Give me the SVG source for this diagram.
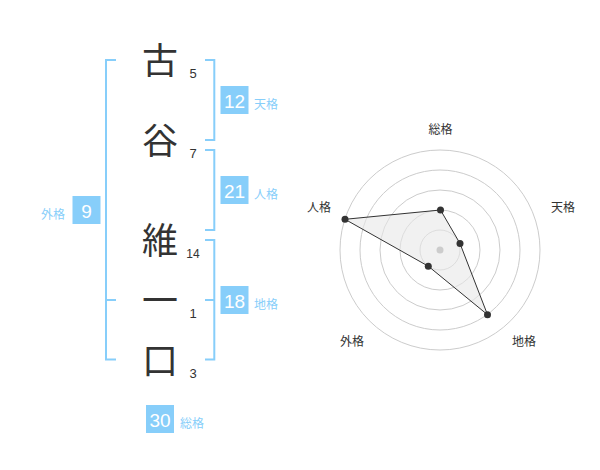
<svg xmlns="http://www.w3.org/2000/svg" width="600" height="470" viewBox="0 0 600 470">
<style>
.kanji{font-family:"Noto Sans CJK JP","Noto Sans CJK SC",sans-serif;font-size:36px;fill:#333;text-anchor:middle}
.cnt{font-family:"Liberation Sans",Arial,sans-serif;font-size:13px;fill:#333;text-anchor:middle}
.br{fill:none;stroke:#87cefa;stroke-width:2}
.box{fill:#87cefa}
.num{font-family:"Liberation Sans",Arial,sans-serif;font-size:19px;fill:#fff;text-anchor:middle}
.lbl{font-family:"Noto Sans CJK JP","Noto Sans CJK SC",sans-serif;font-size:12px;fill:#87cefa}
.ring{fill:none;stroke:#ccc;stroke-width:1}
.rl{font-family:"Noto Sans CJK JP","Noto Sans CJK SC",sans-serif;font-size:12px;fill:#333;text-anchor:middle}
.pt{fill:#333}
</style>
<rect width="600" height="470" fill="#fff"/>
<g id="name-chars">
<text class="kanji" x="160" y="73.5">古</text>
<text class="kanji" x="160" y="153.5">谷</text>
<text class="kanji" x="160" y="253.5">維</text>
<text class="kanji" x="160" y="313.5">一</text>
<text class="kanji" x="160" y="374">口</text>
</g>
<g id="stroke-counts">
<text class="cnt" x="193" y="77.7">5</text>
<text class="cnt" x="193" y="157.7">7</text>
<text class="cnt" x="193" y="257.7" style="font-size:12px">14</text>
<text class="cnt" x="193" y="318">1</text>
<text class="cnt" x="193" y="378">3</text>
</g>
<g id="connectors">
<path class="br" d="M116,60 H106 V359.5 H116 M106,300 H116"/>
<path class="br" d="M205,60 H214.3 V140 H205"/>
<path class="br" d="M205,150 H214.3 V230 H205"/>
<path class="br" d="M205,240 H214.3 V359.5 H205 M205,300 H214.3"/>
</g>
<g id="tenkaku">
<rect class="box" x="220.5" y="86" width="28" height="28"/>
<text class="num" x="234.5" y="107.5">12</text>
<text class="lbl" x="254" y="109">天格</text>
</g>
<g id="jinkaku">
<rect class="box" x="220.5" y="176" width="28" height="28"/>
<text class="num" x="234.5" y="197.5">21</text>
<text class="lbl" x="254" y="199">人格</text>
</g>
<g id="chikaku">
<rect class="box" x="220.5" y="286" width="28" height="28"/>
<text class="num" x="234.5" y="307.5">18</text>
<text class="lbl" x="254" y="309">地格</text>
</g>
<g id="gaikaku">
<rect class="box" x="72.5" y="196" width="28" height="28"/>
<text class="num" x="86.5" y="217.5">9</text>
<text class="lbl" x="41" y="219">外格</text>
</g>
<g id="soukaku">
<rect class="box" x="146" y="405" width="28" height="28"/>
<text class="num" x="160" y="426.5">30</text>
<text class="lbl" x="180" y="428">総格</text>
</g>
<g id="radar">
<circle class="ring" cx="440" cy="250" r="20"/>
<circle class="ring" cx="440" cy="250" r="40"/>
<circle class="ring" cx="440" cy="250" r="60"/>
<circle class="ring" cx="440" cy="250" r="80"/>
<circle class="ring" cx="440" cy="250" r="100"/>
<polygon points="440.5,210 460,243.5 487.5,314.7 428.3,266.2 345,219.3" fill="#e8e8e8" fill-opacity="0.6" stroke="#333" stroke-width="1"/>
<circle cx="440" cy="250" r="3.5" fill="#ccc"/>
<circle class="pt" cx="440.5" cy="210" r="3.5"/>
<circle class="pt" cx="460" cy="243.5" r="3.5"/>
<circle class="pt" cx="487.5" cy="314.7" r="3.5"/>
<circle class="pt" cx="428.3" cy="266.2" r="3.5"/>
<circle class="pt" cx="345" cy="219.3" r="3.5"/>
<text class="rl" x="440.5" y="134">総格</text>
<text class="rl" x="563" y="212">天格</text>
<text class="rl" x="319" y="212">人格</text>
<text class="rl" x="352" y="346">外格</text>
<text class="rl" x="524" y="346">地格</text>
</g>
</svg>
